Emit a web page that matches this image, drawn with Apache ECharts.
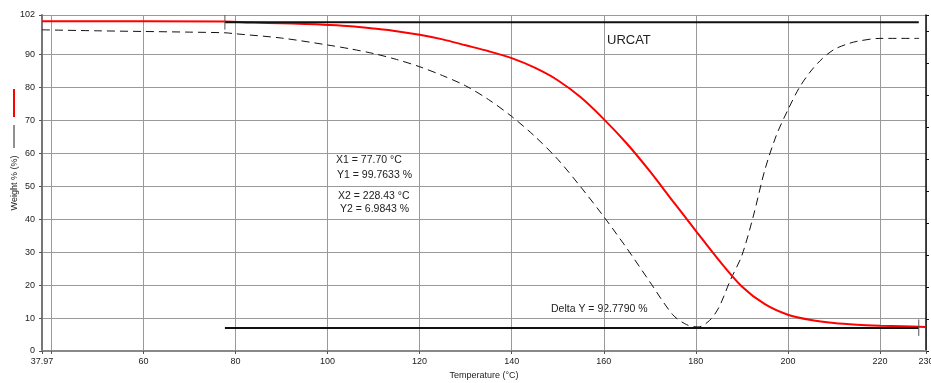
<!DOCTYPE html>
<html>
<head>
<meta charset="utf-8">
<script src="https://cdn.jsdelivr.net/npm/echarts@6/dist/echarts.min.js"></script>
<style>
html, body { margin: 0; padding: 0; background: #fff; }
#chart { width: 931px; height: 383px; }
</style>
</head>
<body>
<div id="chart"></div>
<script>
// weight curve (red)
const weightTemps = [37.97, 77.7, 84, 90, 95, 100, 105, 110, 115, 120, 125, 130, 135, 140, 145, 150, 155, 160, 165, 170, 175, 180, 185, 190, 195, 200, 205, 210, 215, 220, 225, 229.8];
const weightValues = [100.1, 100.0, 99.7, 99.5, 99.3, 99.0, 98.6, 97.9, 97.1, 96.0, 94.6, 92.8, 91.0, 88.9, 86.0, 82.2, 77.0, 70.4, 63.0, 54.6, 45.5, 36.5, 27.6, 19.6, 14.2, 11.0, 9.4, 8.5, 8.0, 7.7, 7.5, 7.3];
// second curve (black dashed)
const derivTemps = [37.97, 50, 60, 70, 77.7, 80, 90, 100, 105, 110, 115, 120, 125, 130, 135, 140, 145, 150, 155, 160, 165, 170, 175, 178, 180.5, 183, 185, 187.5, 190, 192.5, 195, 197.5, 200, 202.5, 205, 207.5, 210, 212.5, 215, 220, 228.5];
const derivValues = [97.5, 97.2, 97.0, 96.8, 96.6, 96.3, 95.0, 92.9, 91.7, 90.3, 88.5, 86.3, 83.6, 80.5, 76.3, 71.2, 65.2, 58.2, 49.8, 40.8, 31.2, 21.0, 11.0, 8.0, 7.3, 9.3, 13.2, 21.5, 29.0, 41.0, 55.0, 65.5, 73.2, 80.0, 85.0, 88.8, 91.5, 93.0, 94.0, 94.9, 94.9];

const xLabelValues = [37.97, 60, 80, 100, 120, 140, 160, 180, 200, 220, 230];
const xTickValues = [37.97, 40, 60, 80, 100, 120, 140, 160, 180, 200, 220, 230];
const yTickValues = [0, 10, 20, 30, 40, 50, 60, 70, 80, 90, 102];

const cursor1 = [77.70, 99.7633];
const cursor2 = [228.43, 6.9843];
const deltaY = 92.7790;

const font = 'Liberation Sans, Arial, sans-serif';
const pairs = (xs, ys) => xs.map((x, i) => [x, ys[i]]);

const chart = echarts.init(document.getElementById('chart'));
chart.setOption({
    animation: false,
    textStyle: { fontFamily: font },
    grid: { left: 42, right: 5, top: 15, bottom: 32, containLabel: false, outerBoundsMode: 'none' },
    xAxis: {
        type: 'value',
        min: 37.97,
        max: 230,
        name: 'Temperature (°C)',
        nameLocation: 'middle',
        nameGap: 20,
        nameTextStyle: { fontSize: 9, color: '#222', fontFamily: font },
        axisLine: { lineStyle: { color: '#888', width: 2 } },
        axisTick: { customValues: xTickValues, length: 3, lineStyle: { color: '#555' } },
        axisLabel: {
            customValues: xLabelValues,
            fontSize: 9, color: '#222', margin: 6, hideOverlap: false,
            formatter: v => String(v)
        },
        splitLine: { show: true, lineStyle: { color: '#999', width: 1 } }
    },
    yAxis: [{
        type: 'value',
        min: 0,
        max: 102,
        name: 'Weight % (%)',
        nameLocation: 'middle',
        nameGap: 23,
        nameMoveOverlap: false,
        nameTextStyle: { fontSize: 9, color: '#222', fontFamily: font },
        axisLine: { show: true, lineStyle: { color: '#777', width: 2 } },
        axisTick: { show: true, customValues: yTickValues, length: 3, lineStyle: { color: '#555' } },
        axisLabel: { customValues: yTickValues, fontSize: 9, color: '#222', margin: 7 },
        splitLine: { show: true, lineStyle: { color: '#999', width: 1 } }
    }, {
        type: 'value',
        position: 'right',
        min: 0,
        max: 10.5,
        interval: 1,
        axisLine: { show: true, lineStyle: { color: '#111', width: 1.5 } },
        axisTick: { show: true, length: 3, lineStyle: { color: '#111' } },
        axisLabel: { show: false },
        splitLine: { show: false }
    }],
    series: [{
        type: 'line',
        data: pairs(derivTemps, derivValues),
        smooth: 0.3,
        symbol: 'none',
        lineStyle: { color: '#111', width: 1, type: [8, 5] }
    }, {
        type: 'line',
        data: pairs(weightTemps, weightValues),
        smooth: 0.3,
        symbol: 'none',
        lineStyle: { color: '#ff0000', width: 2 }
    }, {
        type: 'line',
        data: [[cursor1[0], cursor1[1]], [cursor2[0], cursor1[1]]],
        symbol: 'none',
        lineStyle: { color: '#111', width: 2 }
    }, {
        type: 'line',
        data: [[cursor1[0], cursor2[1]], [cursor2[0], cursor2[1]]],
        symbol: 'none',
        lineStyle: { color: '#111', width: 2 }
    }, {
        type: 'line',
        data: [[cursor1[0], cursor1[1] - 2.2], [cursor1[0], 102]],
        symbol: 'none',
        lineStyle: { color: '#555', width: 1 }
    }, {
        type: 'line',
        data: [[cursor2[0], cursor2[1] - 2.4], [cursor2[0], cursor2[1] + 2.6]],
        symbol: 'none',
        lineStyle: { color: '#555', width: 1 }
    }],
    graphic: [
        { type: 'line', shape: { x1: 14, y1: 89, x2: 14, y2: 117 }, style: { stroke: '#ff0000', lineWidth: 2 } },
        { type: 'line', shape: { x1: 14, y1: 125, x2: 14, y2: 148 }, style: { stroke: '#222', lineWidth: 1 } },
        { type: 'text', x: 607, y: 40, style: { text: 'URCAT', font: '13px ' + font, fill: '#222', verticalAlign: 'middle' } },
        { type: 'text', x: 336, y: 160.5, style: { text: 'X1 = ' + cursor1[0].toFixed(2) + ' °C', font: '10.5px ' + font, fill: '#222', verticalAlign: 'middle' } },
        { type: 'text', x: 337, y: 175.3, style: { text: 'Y1 = ' + cursor1[1].toFixed(4) + ' %', font: '10.5px ' + font, fill: '#222', verticalAlign: 'middle' } },
        { type: 'text', x: 338, y: 196.3, style: { text: 'X2 = ' + cursor2[0].toFixed(2) + ' °C', font: '10.5px ' + font, fill: '#222', verticalAlign: 'middle' } },
        { type: 'text', x: 340, y: 208.7, style: { text: 'Y2 = ' + cursor2[1].toFixed(4) + ' %', font: '10.5px ' + font, fill: '#222', verticalAlign: 'middle' } },
        { type: 'text', x: 551, y: 309, style: { text: 'Delta Y = ' + deltaY.toFixed(4) + ' %', font: '10.5px ' + font, fill: '#222', verticalAlign: 'middle' } }
    ]
});
</script>
</body>
</html>
